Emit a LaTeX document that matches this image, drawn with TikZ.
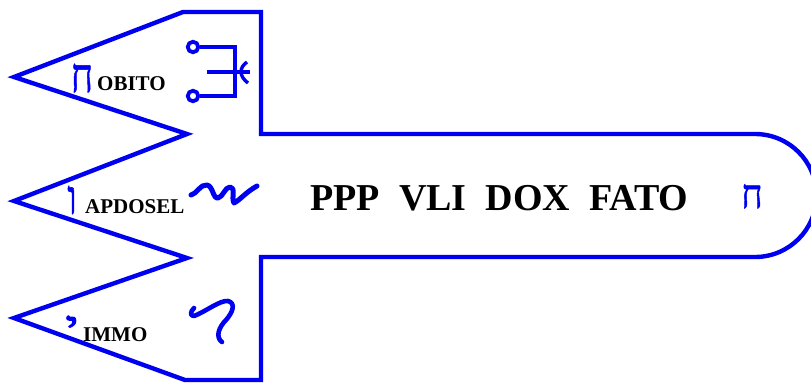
\documentclass[tikz,border=0pt]{standalone}
\usepackage{fontspec}
\setmainfont{Liberation Serif}
\newfontfamily\hebfont[Script=Hebrew,FakeBold=1.2]{Liberation Serif}
\newfontfamily\hebheavy[Script=Hebrew,FakeBold=3]{Liberation Serif}
\TeXXeTstate=1
\definecolor{sigblue}{RGB}{0,0,240}
\tikzset{
  outline/.style={draw=sigblue,line width=4.4pt,line join=miter},
  glyph/.style={draw=sigblue,line width=5pt,line cap=round,line join=round},
  hookglyph/.style={draw=sigblue,line width=4.6pt,line cap=round,line join=round},
  thinglyph/.style={draw=sigblue,line width=3.4pt,line cap=butt},
  ringnode/.style={circle,draw=sigblue,line width=3.8pt,minimum size=10.5pt,inner sep=0pt},
  lbl/.style={inner sep=0pt,anchor=base west,font=\fontsize{21}{21}\selectfont\bfseries},
  heb/.style={inner sep=0pt,text=sigblue,anchor=base,font=\hebfont\fontsize{30}{30}\selectfont},
  hebh/.style={inner sep=0pt,text=sigblue,anchor=base,font=\hebheavy\fontsize{30}{30}\selectfont},
  title/.style={inner sep=0pt,anchor=base,font=\fontsize{38}{38}\selectfont\bfseries}
}
\begin{document}
\begin{tikzpicture}[x=1pt,y=-1pt]
\fill[white] (0,0) rectangle (811,383);
\begin{scope}
\clip (0,0) rectangle (811,383);
\draw[outline] (183,12) -- (261,12) -- (261,134) -- (755,134)
  .. controls (789,134) and (816.5,161.5) .. (816.5,195.5)
  .. controls (816.5,229.5) and (789,257) .. (755,257)
  -- (261,257) -- (261,380) -- (185,380) -- (14,318) -- (187,258)
  -- (14,201) -- (187,134) -- (14,77) -- cycle;
\end{scope}
\useasboundingbox (0,0) rectangle (811,383);
% switch symbol
\node[ringnode] (c1) at (193,47) {};
\node[ringnode] (c2) at (193,96) {};
\coordinate (k1) at (235,47);
\coordinate (k2) at (235,96);
\draw[thinglyph,line join=miter] (c1) -- (k1) -- (k2) -- (c2);
\draw[thinglyph] (207,72) -- (250,72);
\draw[thinglyph] (247,62) .. controls (243,65) and (241,68) .. (241,72)
  .. controls (241,76) and (244,80) .. (248,83);
% squiggle
\draw[glyph] (191,195) .. controls (197,194) and (200,184) .. (207,185)
  .. controls (213,186) and (213,199) .. (218,198)
  .. controls (223,197) and (225,187) .. (230,187)
  .. controls (236,187) and (231,198) .. (234,203)
  .. controls (240,200) and (246,192) .. (257,186);
% hook
\draw[hookglyph] (194,308) .. controls (190,312) and (190,316) .. (194,316)
  .. controls (205,312) and (220,300) .. (228,301)
  .. controls (236,303) and (233,312) .. (226,320)
  .. controls (219,327) and (215,337) .. (222,342);
% labels
\node[heb,xscale=1.25,yscale=1.6] (h1) at (82,92) {\beginR ח\endR};
\node[lbl] (t1) at (97,90) {OBITO};
\node[heb,xscale=1.2,yscale=1.6] (h2) at (72,214) {\beginR ו\endR};
\node[lbl] (t2) at (85,213.5) {APDOSEL};
\node[hebh,xscale=1.6,yscale=1.2] (h3) at (72,337) {\beginR י\endR};
\node[lbl] (t3) at (83,341) {IMMO};
\node[title] (main) at (499.5,210) {PPP\hspace{0.5em}VLI\hspace{0.5em}DOX\hspace{0.5em}FATO};
\node[heb,xscale=1.2,yscale=1.35] (h4) at (752,208) {\beginR ח\endR};
\end{tikzpicture}
\end{document}
